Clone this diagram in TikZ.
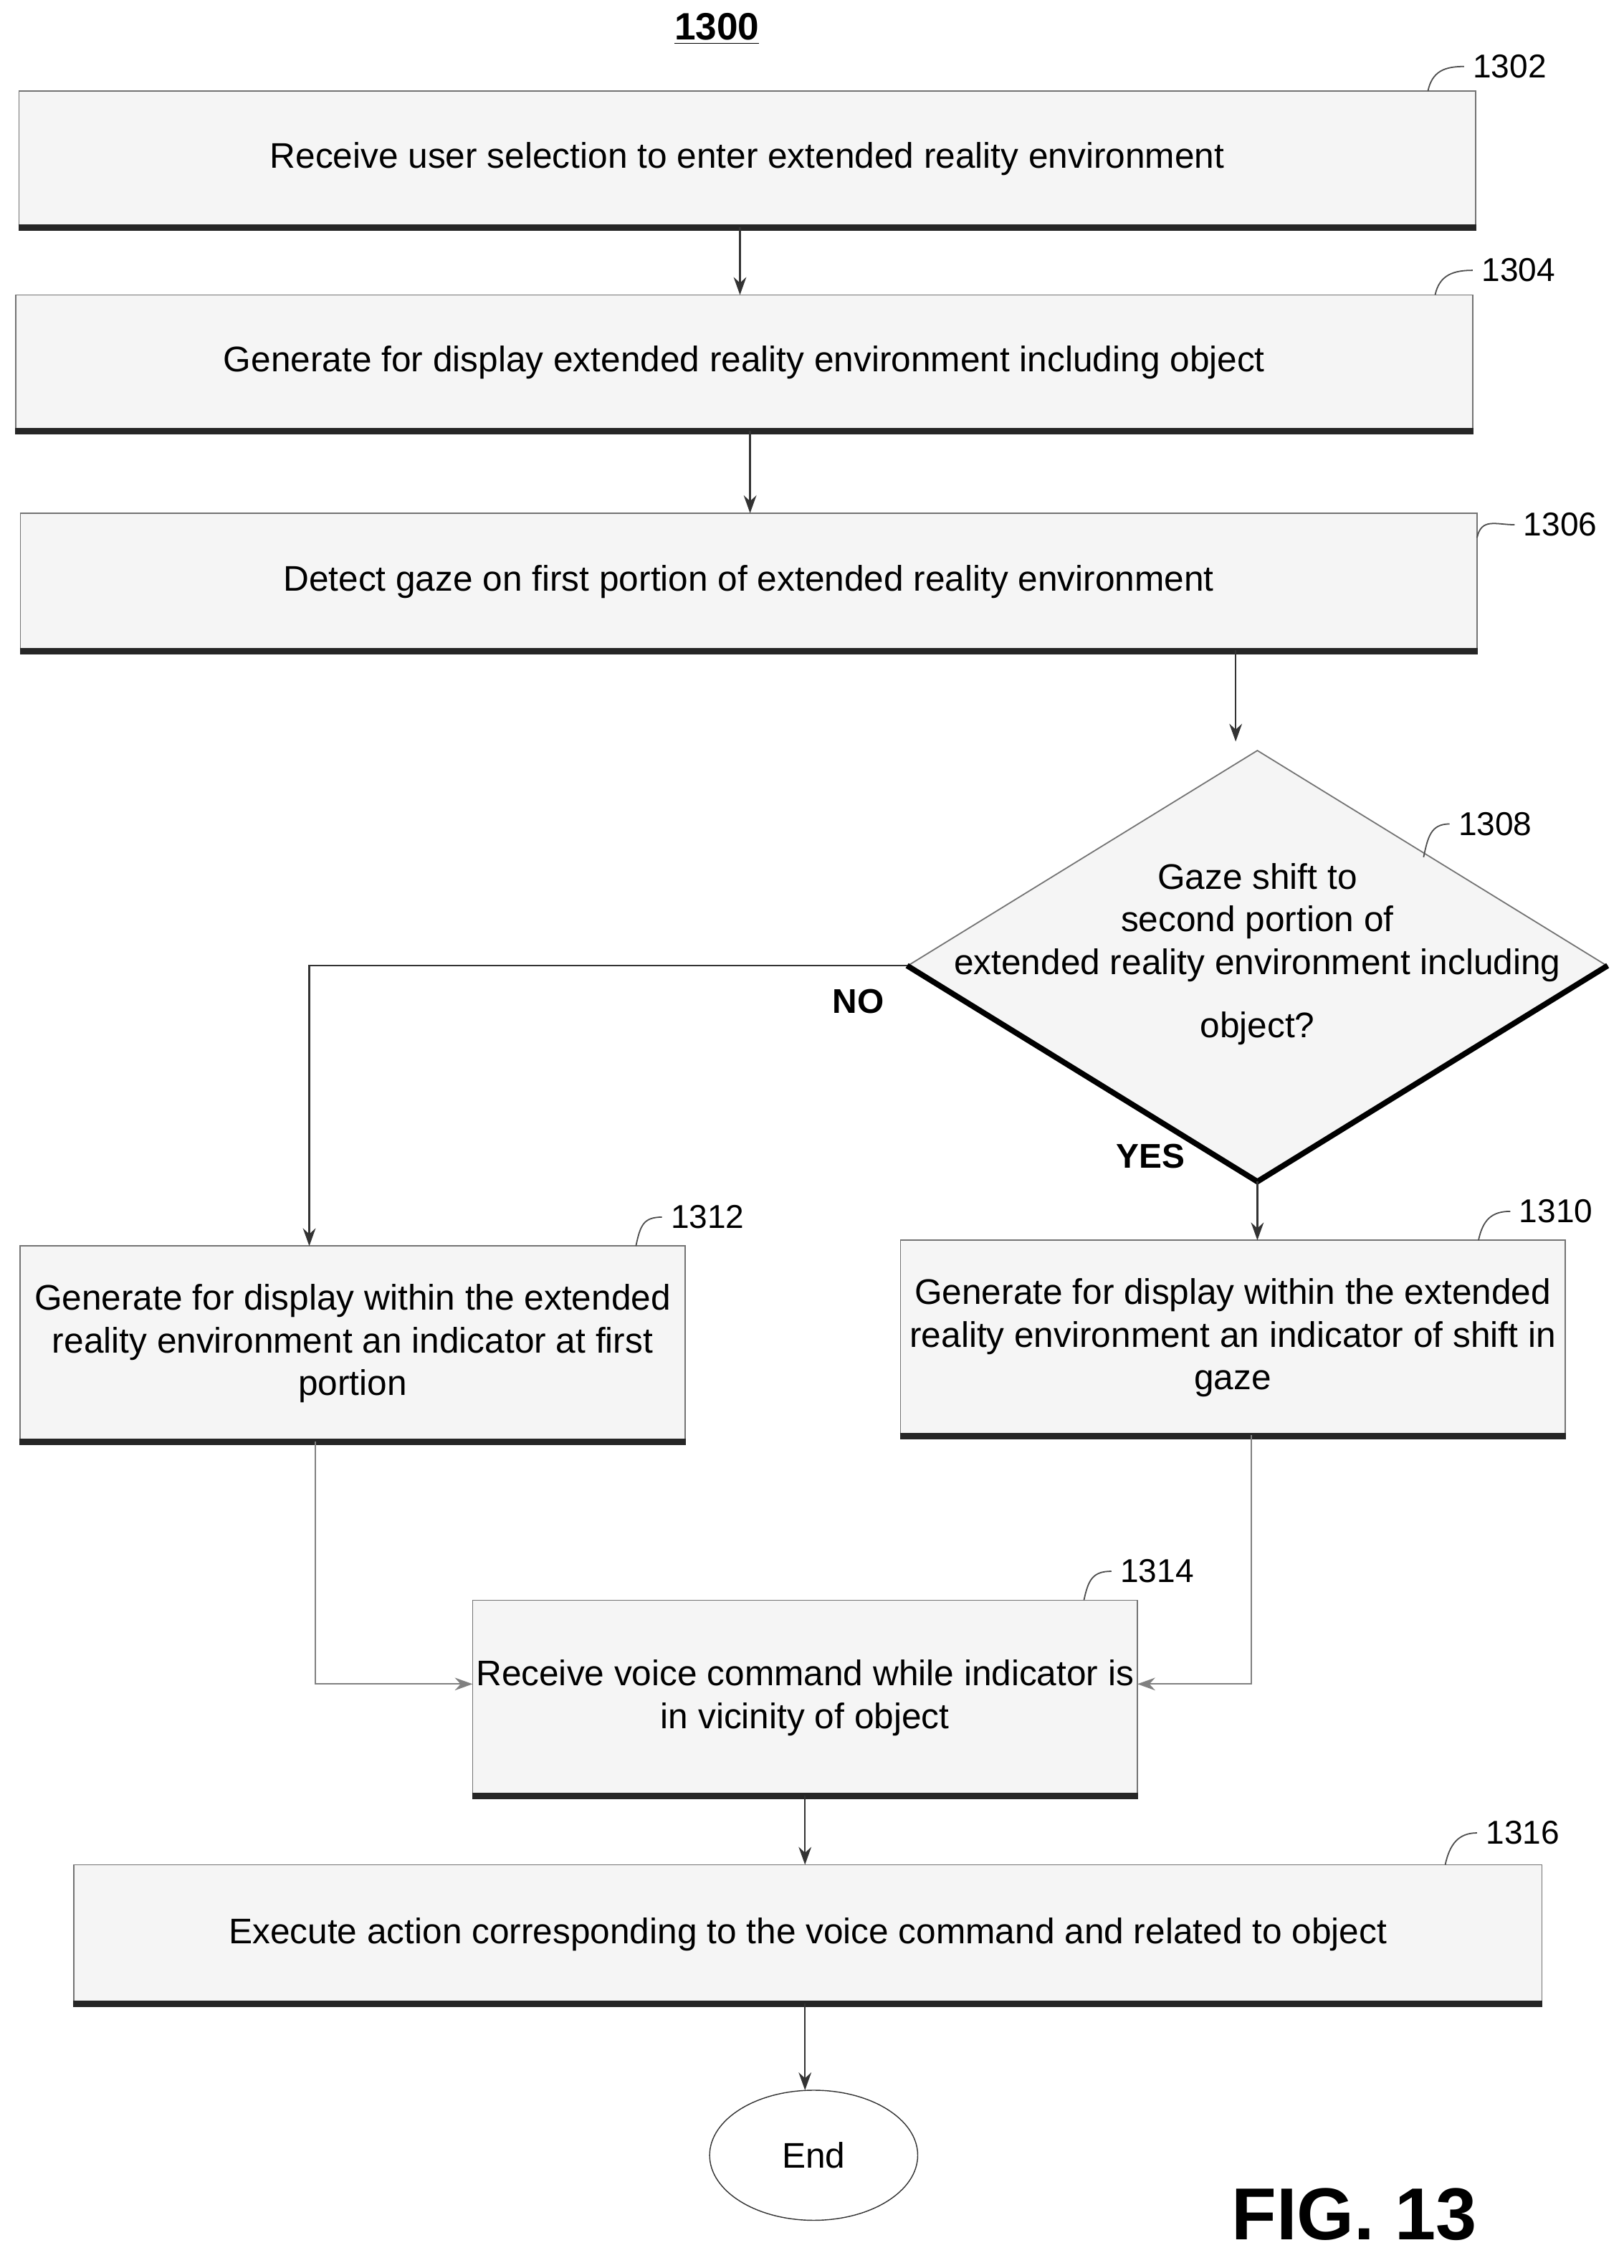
\documentclass[tikz,border=0pt]{standalone}
\usepackage{fontspec}
\setmainfont{Liberation Sans}
\usetikzlibrary{shapes.geometric,arrows.meta}
\begin{document}
\begin{tikzpicture}[x=0.02cm,y=-0.02cm,
  box/.style={draw=black!55,fill=black!4,line width=0.5pt,inner sep=2pt,align=center,font=\fontsize{14}{16.8}\selectfont},
  shadowline/.style={line width=2.6pt,black!85},
  arr/.style={-{Stealth[length=7pt,width=5pt]},line width=0.7pt,black!80},
  thin arr/.style={-{Stealth[length=7pt,width=5pt]},line width=0.5pt,black!50},
  ref/.style={font=\fontsize{13}{15}\selectfont},
  lead/.style={line width=0.5pt,black!70},
  lbl/.style={font=\bfseries\fontsize{13.5}{15}\selectfont}]
\useasboundingbox (0,0) rectangle (1123.3,1569);
\node[font=\bfseries\fontsize{15}{17}\selectfont] (title) at (496,20) {\underline{1300}};

\node[box,minimum width=20.16cm,minimum height=1.88cm] (b1302) at (517,110) {Receive user selection to enter extended reality environment};
\node[box,minimum width=20.16cm,minimum height=1.88cm] (b1304) at (515,251) {Generate for display extended reality environment including object};
\node[box,minimum width=20.16cm,minimum height=1.9cm] (b1306) at (518,402.5) {Detect gaze on first portion of extended reality environment};
\node[box,minimum width=9.2cm,minimum height=2.7cm] (b1312) at (244,929.5) {Generate for display within the extended\\reality environment an indicator at first\\portion};
\node[box,minimum width=9.2cm,minimum height=2.7cm] (b1310) at (853,925.5) {Generate for display within the extended\\reality environment an indicator of shift in\\gaze};
\node[box,minimum width=9.2cm,minimum height=2.7cm,inner sep=0pt] (b1314) at (557,1174.5) {Receive voice command while indicator is\\in vicinity of object};
\node[box,minimum width=20.32cm,minimum height=1.92cm] (b1316) at (559,1338) {Execute action corresponding to the voice command and related to object};

\foreach \n in {b1302,b1304,b1306,b1312,b1310,b1314,b1316}
  \draw[shadowline] (\n.south west) -- (\n.south east);

% diamond
\node[draw=black!55,fill=black!4,diamond,minimum width=9.68cm,minimum height=5.96cm,inner sep=0pt,line width=0.5pt] (d1308) at (870,668) {};
\draw[line width=2.2pt,black] (d1308.west) -- (d1308.south) -- (d1308.east);
\node[align=center,font=\fontsize{14}{16.8}\selectfont] (dtext) at (870,660) {Gaze shift to\\second portion of\\extended reality environment including\\[8pt]object?};

\node[draw=black!80,ellipse,minimum width=2.88cm,minimum height=1.8cm,fill=white,font=\fontsize{14}{16}\selectfont] (end) at (563,1491) {End};

\node[font=\bfseries\fontsize{29}{32}\selectfont] (fig) at (937,1532) {FIG. 13};

% connectors
\draw[arr] (512,157) -- (512,204);
\draw[arr] (519,298) -- (519,355);
\coordinate (dtop) at (855,513);
\draw[arr] (855,450) -- (dtop);
\coordinate (nocorner) at (214,668);
\draw[arr] (d1308.west) -- (nocorner) -- (214,862);
\node[lbl] (no) at (594,693) {NO};
\draw[arr] (d1308.south) -- (870,858);
\node[lbl] (yes) at (796,800) {YES};
\draw[thin arr] (218,997) -- (218,1165) -- (327,1165);
\draw[thin arr] (866,993) -- (866,1165) -- (787,1165);
\draw[arr] (557,1242) -- (557,1290);
\coordinate (endtop) at (557,1446);
\draw[arr] (557,1386) -- (endtop);

% reference labels
\foreach \lx/\ly/\t/\sx/\sy in {1040/46/1302/988/63, 1046/187/1304/993/204, 1075/363/1306/1022/372, 1030/570/1308/985/593, 485/842/1312/440/862, 1072/838/1310/1023/858, 796/1087/1314/750/1107, 1049/1268/1316/1000/1290}{
  \node[ref,anchor=west] (r\t) at (\lx-27,\ly) {\t};
  \draw[lead] (\sx,\sy) .. controls (\sx+3,\sy-14) and (\lx-40,\ly) .. (\lx-27,\ly);
}
\end{tikzpicture}
\end{document}
